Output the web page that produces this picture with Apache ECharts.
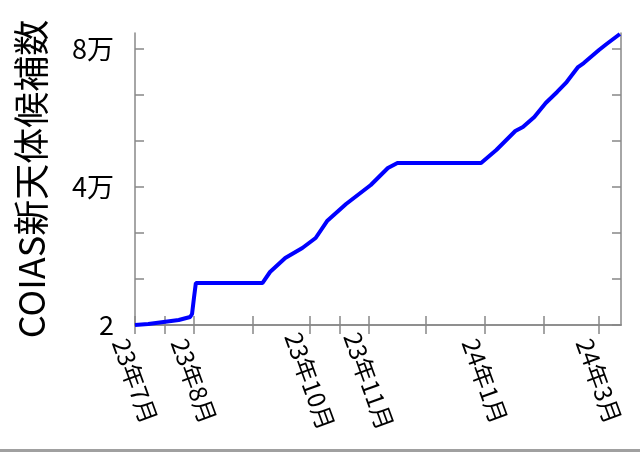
<!DOCTYPE html>
<html>
<head>
<meta charset="utf-8">
<script src="https://cdn.jsdelivr.net/npm/echarts@6/dist/echarts.min.js"></script>
<style>
html, body { margin: 0; padding: 0; background: #fff; }
#chart { width: 640px; height: 452px; }
</style>
</head>
<body>
<div id="chart"></div>
<script>
// 日付ごとの累計候補数
const dates = [
  "2023-07-01", "2023-07-08", "2023-07-16", "2023-07-24", "2023-07-30",
  "2023-07-31", "2023-08-01", "2023-08-02", "2023-09-06", "2023-09-10",
  "2023-09-18", "2023-09-27", "2023-10-04", "2023-10-10", "2023-10-20",
  "2023-11-02", "2023-11-11", "2023-11-16", "2023-12-30", "2024-01-07",
  "2024-01-17", "2024-01-21", "2024-01-27", "2024-02-02", "2024-02-08",
  "2024-02-13", "2024-02-19", "2024-02-22", "2024-03-01", "2024-03-05",
  "2024-03-12"
];
const counts = [
  0, 290, 870, 1450, 2320,
  3190, 7830, 12170, 12170, 15360,
  19420, 22320, 25220, 30140, 35070,
  40580, 45510, 46960, 46960, 50720,
  56230, 57390, 60290, 64350, 67540,
  70430, 74780, 75940, 79710, 81450,
  84350
];

const xTickDates = [
  "2023-07-01", "2023-07-16T18:00", "2023-08-01", "2023-09-01", "2023-10-01",
  "2023-10-16T14:00", "2023-11-01", "2023-12-01", "2024-01-01", "2024-02-01",
  "2024-03-01"
];
const xLabelDates = ["2023-07-01", "2023-08-01", "2023-10-01", "2023-11-01", "2024-01-01", "2024-03-01"];
const xLabelTexts = ["23年7月", "23年8月", "23年10月", "23年11月", "24年1月", "24年3月"];

const yTickValues = [0, 13333.33, 26666.67, 40000, 53333.33, 66666.67, 80000];
const yLabelValues = [0, 40000, 80000];
const yLabelTexts = ["2", "4万", "8万"];

function ts(s) {
  const [d, t] = s.split("T");
  const [y, m, day] = d.split("-").map(Number);
  const h = t ? Number(t.split(":")[0]) : 0;
  return Date.UTC(y, m - 1, day, h);
}

const xMin = ts("2023-07-01");
const xMax = ts("2024-03-12T14:00");
const yMax = 84640;

const font = '"Noto Sans CJK JP", "Noto Sans", sans-serif';
const axisColor = "#888888";

const chart = echarts.init(document.getElementById("chart"));

const option = {
  animation: false,
  backgroundColor: "#ffffff",
  textStyle: { fontFamily: font },
  grid: { left: 135, right: 19, top: 33, bottom: 127, containLabel: false },
  graphic: [
    {
      type: "rect",
      shape: { x: 0, y: 449, width: 640, height: 3 },
      style: { fill: "#a0a0a0" },
      silent: true,
    },
  ],
  xAxis: [
    {
      type: "value",
      position: "bottom",
      min: xMin,
      max: xMax,
      axisLine: { lineStyle: { color: axisColor, width: 1.5 } },
      axisTick: {
        inside: true,
        length: 9,
        customValues: xTickDates.map(ts),
        lineStyle: { color: axisColor, width: 1.5 },
      },
      axisLabel: {
        customValues: xLabelDates.map(ts),
        rotate: -70,
        align: "center",
        verticalAlign: "middle",
        margin: 56,
        fontSize: 24,
        color: "#000",
        fontFamily: font,
        formatter: (v) => {
          const i = xLabelDates.map(ts).indexOf(v);
          return i >= 0 ? xLabelTexts[i] : "";
        },
      },
      splitLine: { show: false },
    },
    {
      type: "value",
      position: "top",
      min: xMin,
      max: xMax,
      axisLine: { lineStyle: { color: axisColor, width: 1.5 } },
      axisTick: {
        inside: true,
        length: 9,
        customValues: xTickDates.map(ts),
        lineStyle: { color: axisColor, width: 1.5 },
      },
      axisLabel: { show: false },
      splitLine: { show: false },
    },
  ],
  yAxis: [
    {
      type: "value",
      position: "left",
      min: 0,
      max: yMax,
      interval: 80000 / 6,
      name: "COIAS新天体候補数",
      nameLocation: "middle",
      nameRotate: 90,
      nameGap: 86,
      nameTextStyle: { fontSize: 36, color: "#000", fontFamily: font },
      axisLine: { show: true, lineStyle: { color: axisColor, width: 1.5 } },
      axisTick: {
        show: true,
        inside: true,
        length: 9,
        customValues: yTickValues,
        lineStyle: { color: axisColor, width: 1.5 },
      },
      axisLabel: {
        customValues: yLabelValues,
        margin: 21,
        fontSize: 27,
        color: "#000",
        fontFamily: font,
        formatter: (v) => {
          const i = yLabelValues.findIndex((y) => Math.abs(y - v) < 1);
          return i >= 0 ? yLabelTexts[i] : "";
        },
      },
      splitLine: { show: false },
    },
    {
      type: "value",
      position: "right",
      min: 0,
      max: yMax,
      interval: 80000 / 6,
      axisLine: { show: true, lineStyle: { color: axisColor, width: 1.5 } },
      axisTick: {
        show: true,
        inside: true,
        length: 9,
        customValues: yTickValues,
        lineStyle: { color: axisColor, width: 1.5 },
      },
      axisLabel: { show: false },
      splitLine: { show: false },
    },
  ],
  series: [
    {
      type: "line",
      xAxisIndex: 0,
      yAxisIndex: 0,
      data: dates.map((d, i) => [ts(d), counts[i]]),
      showSymbol: false,
      symbol: "none",
      lineStyle: { color: "#0000ff", width: 4 },
      z: 3,
    },
  ],
};

chart.setOption(option);
</script>
</body>
</html>
